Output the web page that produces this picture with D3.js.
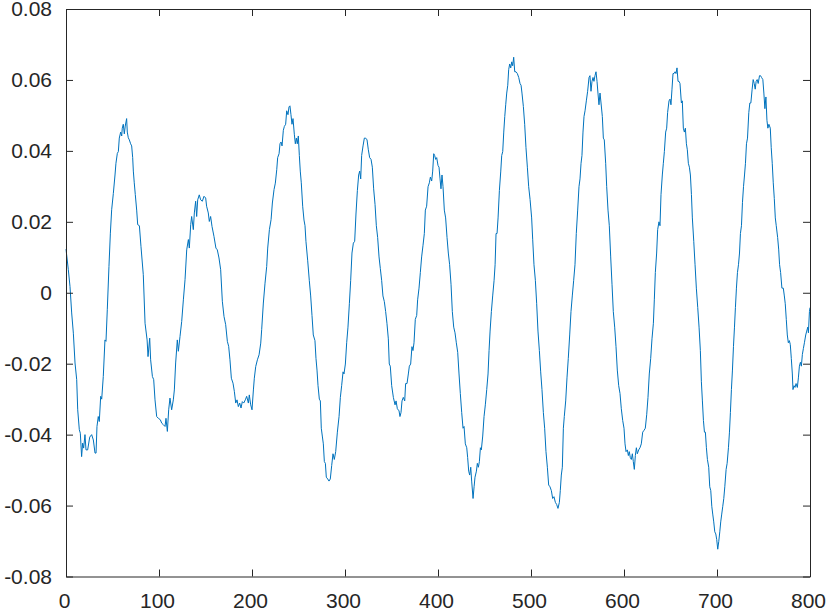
<!DOCTYPE html>
<html>
<head>
<meta charset="utf-8">
<script src="https://cdn.jsdelivr.net/npm/d3@7"></script>
<style>
  html, body { margin: 0; padding: 0; background: #fff; }
  svg { display: block; }
  .tick text { font-family: "Liberation Sans", Arial, Helvetica, sans-serif; font-size: 21px; fill: #262626; }
</style>
</head>
<body>
<script>
// sample index (x) and signal value (y)
const sampleX = [
  0, 2.5, 4.3, 6.1, 7.9, 9.7, 11.5, 12.6, 14.3, 15.4, 16.8, 17.9, 19.0, 20.4, 21.5, 23.3, 25.5, 27.6, 29.4, 31.2,
  32.3, 33.3, 34.7, 35.8, 37.3, 38.4, 40.1, 41.9, 43.0, 44.4, 46.2, 47.7, 49.1, 50.9, 52.7, 53.7, 55.2, 56.3, 57.3, 58.8,
  59.9, 60.5, 61.6, 62.7, 63.7, 65.2, 65.9, 67.0, 68.1, 69.5, 70.6, 71.7, 72.4, 73.4, 74.5, 76.0, 77.1, 78.9, 80.6, 83.1,
  85.0, 87.2, 88.2, 90.0, 91.0, 92.9, 94.3, 95.7, 97.5, 99.3, 101.4, 103.0, 104.7, 106.5, 107.5, 109.0, 110.4, 111.8, 113.6, 115.4,
  116.5, 117.9, 119.7, 120.8, 122.6, 124.4, 126.2, 128.0, 129.8, 131.6, 132.6, 134.1, 135.1, 136.9, 138.0, 139.4, 140.5, 141.6, 143.3, 144.8,
  146.6, 148.4, 150.2, 151.2, 153.0, 154.1, 155.5, 157.0, 159.1, 161.2, 162.7, 164.5, 166.3, 168.1, 169.9, 171.7, 173.5, 174.9, 176.3, 177.8,
  179.6, 181.0, 182.5, 183.9, 185.3, 186.8, 188.2, 189.6, 191.1, 192.8, 194.3, 196.1, 197.1, 198.6, 200.0, 201.5, 202.5, 204.0, 205.8, 207.6,
  209.4, 210.4, 212.2, 214.0, 215.8, 216.9, 218.7, 220.5, 221.9, 223.7, 225.1, 226.6, 227.6, 229.1, 230.1, 231.2, 232.3, 233.7, 234.8, 236.2,
  237.3, 238.7, 239.8, 240.8, 241.9, 243.0, 244.1, 245.5, 246.6, 247.7, 248.7, 249.8, 250.9, 251.9, 253.0, 254.5, 255.9, 257.0, 258.0, 259.9,
  261.6, 263.1, 264.5, 265.9, 267.7, 268.8, 269.9, 271.0, 272.4, 273.5, 274.5, 275.6, 276.7, 277.8, 278.9, 279.9, 281.4, 282.8, 284.2, 285.7,
  287.1, 288.5, 290.0, 291.8, 293.6, 295.0, 296.4, 297.9, 298.9, 300.4, 301.8, 303.2, 304.7, 306.1, 307.5, 309.0, 310.4, 311.8, 313.3, 314.7,
  315.8, 316.9, 317.9, 319.4, 320.8, 322.2, 323.7, 325.1, 326.5, 328.0, 329.4, 330.8, 332.3, 333.7, 335.1, 336.6, 338.0, 339.4, 340.8, 342.3,
  343.7, 345.1, 346.6, 347.6, 348.7, 350.2, 352.0, 353.8, 354.9, 356.3, 358.1, 359.1, 360.2, 361.3, 362.7, 364.2, 365.2, 366.7, 368.1, 369.2,
  370.6, 372.0, 373.1, 374.2, 375.6, 377.1, 378.1, 379.6, 381.0, 382.4, 383.9, 385.3, 386.4, 387.8, 389.3, 390.7, 391.8, 393.2, 394.3, 395.4,
  396.4, 397.5, 398.6, 400.0, 401.1, 402.2, 403.2, 404.3, 405.4, 406.8, 408.2, 409.7, 411.1, 412.5, 414.0, 415.4, 416.9, 418.3, 419.7, 421.2,
  422.6, 424.0, 425.5, 426.9, 428.0, 429.4, 430.9, 431.9, 433.0, 434.1, 435.2, 436.2, 437.7, 438.8, 439.8, 441.3, 442.3, 443.4, 444.5, 445.6,
  446.6, 448.1, 449.5, 450.9, 452.4, 453.8, 454.9, 456.0, 457.4, 458.8, 460.3, 461.4, 462.4, 463.5, 464.6, 466.0, 467.5, 468.5, 469.6, 470.7,
  471.8, 472.8, 473.9, 475.0, 476.0, 477.1, 478.2, 479.3, 480.3, 481.4, 482.5, 483.9, 485.3, 486.8, 488.2, 489.3, 490.3, 491.8, 493.2, 494.6,
  496.1, 497.5, 499.0, 500.7, 501.8, 503.2, 504.7, 506.1, 507.5, 509.0, 510.4, 511.8, 513.3, 514.7, 516.1, 517.6, 519.0, 520.4, 521.9, 523.3,
  524.7, 526.2, 527.6, 529.0, 530.5, 531.5, 532.6, 533.7, 534.8, 535.8, 537.3, 538.7, 540.1, 541.6, 543.0, 544.4, 545.9, 547.3, 548.7, 550.2,
  551.6, 552.7, 553.8, 554.8, 555.9, 557.0, 558.1, 559.5, 560.9, 562.4, 563.4, 564.5, 565.6, 566.7, 567.7, 568.8, 569.9, 571.0, 572.0, 573.1,
  574.2, 575.3, 576.7, 577.8, 578.8, 580.3, 581.4, 582.8, 584.2, 585.7, 587.1, 588.5, 590.0, 591.4, 592.8, 594.3, 595.7, 597.1, 598.6, 600.0,
  601.1, 602.2, 603.6, 604.7, 605.7, 606.8, 607.9, 609.0, 610.0, 611.1, 612.2, 613.3, 614.3, 615.8, 617.2, 618.6, 620.1, 621.5, 622.9, 624.4,
  625.8, 627.2, 628.7, 630.1, 631.6, 632.6, 633.7, 635.1, 636.2, 637.6, 638.7, 639.8, 641.2, 642.3, 643.4, 644.8, 645.9, 646.9, 648.4, 649.5,
  650.5, 651.6, 652.7, 653.8, 654.9, 655.9, 657.0, 658.1, 659.2, 660.2, 661.7, 662.7, 663.8, 664.9, 666.0, 667.1, 668.1, 669.2, 670.3, 671.4,
  672.5, 673.5, 675.0, 676.4, 677.8, 679.3, 680.7, 682.1, 683.2, 684.3, 685.4, 686.5, 687.5, 688.6, 689.7, 691.1, 692.2, 693.3, 694.4, 695.4,
  696.5, 697.6, 698.7, 699.7, 700.8, 701.9, 703.0, 704.0, 705.1, 706.2, 707.3, 708.4, 709.8, 710.9, 712.3, 713.4, 714.4, 715.5, 716.6, 717.7,
  718.8, 719.8, 720.9, 722.0, 723.1, 724.2, 725.2, 726.3, 727.4, 728.5, 729.6, 730.6, 731.7, 732.8, 734.2, 735.3, 736.4, 737.8, 738.9, 740.0,
  741.1, 742.1, 743.2, 744.3, 745.7, 746.8, 747.9, 749.3, 750.4, 751.5, 752.6, 753.7, 754.7, 755.8, 757.3, 758.3, 759.4, 760.5, 761.6, 762.7,
  763.7, 765.2, 766.3, 767.3, 768.4, 769.8, 771.3, 772.4, 773.4, 774.5, 775.6, 776.7, 777.8, 778.8, 779.9, 781.0, 781.7, 782.8, 783.9, 785.0,
  786.4, 787.5, 788.6, 789.7, 790.7, 791.8, 792.9, 794.0, 795.4, 796.5, 797.6, 798.3, 799.4, 800
];

const signal = [
  0.0123, 0.0065, 0.0018, -0.0057, -0.0114, -0.0198, -0.0245, -0.033, -0.0386, -0.0396, -0.0462, -0.0424, -0.0438, -0.040, -0.0443, -0.0443, -0.0407, -0.040, -0.0415, -0.0452,
  -0.0452, -0.0377, -0.0349, -0.0363, -0.0292, -0.030, -0.0236, -0.0133, -0.0137, -0.0048, 0.0074, 0.0168, 0.0234, 0.028, 0.0332, 0.0365, 0.0393, 0.0398, 0.0436, 0.0453,
  0.0442, 0.0464, 0.0475, 0.0448, 0.047, 0.0491, 0.0453, 0.0437, 0.0431, 0.042, 0.0414, 0.0381, 0.0343, 0.031, 0.0277, 0.0233, 0.0192, 0.0189, 0.0131, 0.0051,
  -0.0086, -0.0133, -0.018, -0.0128, -0.0189, -0.0236, -0.0245, -0.0302, -0.0349, -0.0354, -0.0358, -0.0368, -0.0372, -0.0377, -0.0354, -0.0391, -0.033, -0.0297, -0.033, -0.0302,
  -0.0274, -0.0198, -0.0133, -0.0165, -0.0123, -0.0081, -0.002, 0.0037, 0.0121, 0.015, 0.0126, 0.0192, 0.0215, 0.0178, 0.0225, 0.0258, 0.0215, 0.0262, 0.0276, 0.0262,
  0.0258, 0.0272, 0.0267, 0.0244, 0.0225, 0.0201, 0.0215, 0.0187, 0.0159, 0.0126, 0.0121, 0.0098, 0.0065, -0.0024, -0.0067, -0.009, -0.0137, -0.0151, -0.0189, -0.0241,
  -0.0255, -0.0278, -0.0311, -0.0302, -0.0321, -0.0311, -0.0325, -0.0307, -0.0311, -0.0302, -0.0292, -0.0311, -0.0288, -0.0316, -0.033, -0.0274, -0.0241, -0.0208, -0.0189, -0.0175,
  -0.0142, -0.0104, -0.0029, 0.0027, 0.0074, 0.0126, 0.0178, 0.0206, 0.0253, 0.0291, 0.0309, 0.0347, 0.0381, 0.0392, 0.042, 0.0425, 0.0414, 0.0458, 0.0469, 0.0475,
  0.0513, 0.0502, 0.0524, 0.0527, 0.0502, 0.0475, 0.0491, 0.0447, 0.042, 0.0436, 0.042, 0.0442, 0.0387, 0.0343, 0.031, 0.0244, 0.0205, 0.0189, 0.0145, 0.009,
  0.0035, -0.0009, -0.0064, -0.0119, -0.0135, -0.0185, -0.0218, -0.0262, -0.03, -0.0305, -0.0382, -0.0404, -0.0426, -0.0476, -0.0481, -0.052, -0.0525, -0.0531, -0.0525, -0.0487,
  -0.0454, -0.047, -0.0448, -0.0393, -0.0349, -0.0295, -0.0262, -0.0223, -0.0229, -0.0201, -0.0141, -0.0097, -0.0031, 0.0035, 0.0112, 0.014, 0.0145, 0.0222, 0.0288, 0.0332,
  0.0343, 0.0321, 0.0387, 0.0414, 0.0436, 0.0436, 0.0431, 0.0403, 0.0381, 0.0376, 0.0354, 0.0293, 0.0249, 0.0189, 0.0156, 0.0101, 0.0068, 0.0035, -0.0009, -0.0025,
  -0.0053, -0.0086, -0.013, -0.0201, -0.0207, -0.0262, -0.0295, -0.0316, -0.0305, -0.0327, -0.0333, -0.0349, -0.0338, -0.0305, -0.0295, -0.0305, -0.0256, -0.0256, -0.0229, -0.0207,
  -0.0201, -0.0152, -0.0163, -0.0141, -0.0075, -0.0064, -0.002, 0.0013, 0.0057, 0.0101, 0.0134, 0.0167, 0.0233, 0.0244, 0.0299, 0.031, 0.0326, 0.0315, 0.0343, 0.0392,
  0.0387, 0.0376, 0.0381, 0.0359, 0.0354, 0.0321, 0.0293, 0.0332, 0.0299, 0.0233, 0.0211, 0.0156, 0.0112, 0.0079, 0.0024, -0.0053, -0.0097, -0.0113, -0.0141, -0.0168,
  -0.0229, -0.0284, -0.0338, -0.0382, -0.0377, -0.0426, -0.0437, -0.0465, -0.0503, -0.0514, -0.0492, -0.0531, -0.058, -0.0547, -0.052, -0.0503, -0.0481, -0.0492, -0.0476, -0.0437,
  -0.0443, -0.0404, -0.0349, -0.0316, -0.0273, -0.0229, -0.0163, -0.0108, -0.0053, -0.0009, 0.0035, 0.0079, 0.0167, 0.0167, 0.0211, 0.0288, 0.0343, 0.0387, 0.0398, 0.0453,
  0.0497, 0.053, 0.0563, 0.0585, 0.0629, 0.0645, 0.0634, 0.0651, 0.064, 0.0664, 0.0623, 0.0623, 0.0618, 0.0607, 0.059, 0.0585, 0.0563, 0.0525, 0.0475, 0.0409,
  0.0354, 0.0299, 0.0263, 0.0211, 0.0151, 0.0079, 0.0035, -0.0031, -0.0108, -0.0163, -0.0223, -0.0273, -0.0338, -0.0382, -0.0448, -0.0492, -0.0542, -0.0547, -0.0558, -0.058,
  -0.0575, -0.0591, -0.0597, -0.0608, -0.0591, -0.0558, -0.0514, -0.0492, -0.0382, -0.0349, -0.0305, -0.024, -0.0185, -0.0119, -0.0053, -0.0009, 0.0035, 0.0079, 0.0167, 0.0233,
  0.0299, 0.0321, 0.0365, 0.0387, 0.0453, 0.0497, 0.0513, 0.0541, 0.0568, 0.0607, 0.0612, 0.0568, 0.0596, 0.0607, 0.0596, 0.0612, 0.0623, 0.0596, 0.0563, 0.053,
  0.0563, 0.0535, 0.0497, 0.0436, 0.0431, 0.0365, 0.0299, 0.0233, 0.0189, 0.0101, 0.0024, -0.0053, -0.0097, -0.0152, -0.0218, -0.0262, -0.0284, -0.0327, -0.036, -0.0382,
  -0.0426, -0.0448, -0.0443, -0.0459, -0.0448, -0.0465, -0.047, -0.0454, -0.0476, -0.0498, -0.0459, -0.0437, -0.0454, -0.0443, -0.0437, -0.0426, -0.0393, -0.0388, -0.0382, -0.0344,
  -0.0295, -0.0229, -0.0185, -0.013, -0.0086, -0.002, 0.0057, 0.0112, 0.0178, 0.02, 0.0189, 0.0277, 0.0332, 0.0365, 0.0398, 0.0453, 0.0464, 0.0508, 0.0541, 0.0546,
  0.053, 0.0574, 0.0618, 0.0618, 0.0623, 0.0618, 0.0634, 0.0596, 0.0596, 0.059, 0.0535, 0.0541, 0.0464, 0.0453, 0.0464, 0.042, 0.0403, 0.0365, 0.0354, 0.0332,
  0.0277, 0.0211, 0.0145, 0.0079, 0.0013, -0.0042, -0.0097, -0.0163, -0.0251, -0.0305, -0.036, -0.0393, -0.0393, -0.0437, -0.047, -0.0492, -0.0547, -0.0558, -0.0602, -0.0624,
  -0.0646, -0.0674, -0.068, -0.0696, -0.0723, -0.0701, -0.0674, -0.0646, -0.0624, -0.0602, -0.058, -0.0547, -0.0498, -0.0481, -0.0437, -0.0393, -0.0338, -0.0273, -0.0218, -0.0152,
  -0.0097, -0.0042, 0.0013, 0.0057, 0.0079, 0.0112, 0.0167, 0.0189, 0.0255, 0.0299, 0.0332, 0.0365, 0.042, 0.0436, 0.0508, 0.0535, 0.0535, 0.0574, 0.0601, 0.059,
  0.0574, 0.0596, 0.0601, 0.059, 0.0612, 0.0612, 0.0607, 0.0601, 0.0563, 0.0519, 0.0552, 0.0486, 0.0464, 0.0475, 0.0464, 0.0409, 0.0365, 0.031, 0.0266, 0.0211,
  0.0189, 0.0156, 0.0123, 0.0079, 0.0057, 0.0013, 0.0013, -0.0009, -0.0031, -0.0075, -0.0119, -0.0141, -0.0135, -0.0146, -0.0185, -0.0229, -0.0273, -0.0262, -0.0267, -0.0256,
  -0.0267, -0.024, -0.0207, -0.0196, -0.0207, -0.0174, -0.0157, -0.0141, -0.0119, -0.0108, -0.0097, -0.0113, -0.0053, -0.0042
];

const xTicks = [0, 100, 200, 300, 400, 500, 600, 700, 800];
const yTicks = [-0.08, -0.06, -0.04, -0.02, 0, 0.02, 0.04, 0.06, 0.08];

const width = 830, height = 611;
const margin = { top: 9, right: 20, bottom: 34.5, left: 66 };
const innerW = width - margin.left - margin.right;
const innerH = height - margin.top - margin.bottom;
const axisColor = '#262626';
const tickLen = 7;

const svg = d3.select('body')
  .append('svg')
  .attr('width', width)
  .attr('height', height);

const g = svg.append('g')
  .attr('transform', `translate(${margin.left}, ${margin.top})`);

const xScale = d3.scaleLinear().domain([0, 800]).range([0, innerW]);
const yScale = d3.scaleLinear().domain([-0.08, 0.08]).range([innerH, 0]);

const yFormat = d => d === 0 ? '0' : d.toFixed(2);

// the curve
const line = d3.line()
  .x((d, i) => xScale(sampleX[i]))
  .y(d => yScale(d));

g.append('path')
  .datum(signal)
  .attr('fill', 'none')
  .attr('stroke', '#0072BD')
  .attr('stroke-width', 1)
  .attr('stroke-linejoin', 'round')
  .attr('d', line);

// axes, ticks pointing inwards on all four sides
const bottom = g.append('g')
  .attr('transform', `translate(0, ${innerH})`)
  .call(d3.axisBottom(xScale).tickValues(xTicks).tickSizeInner(-tickLen).tickSizeOuter(0).tickPadding(17));
bottom.selectAll('.tick text').attr('dx', '-2px');

g.append('g')
  .call(d3.axisLeft(yScale).tickValues(yTicks).tickFormat(yFormat).tickSizeInner(-tickLen).tickSizeOuter(0).tickPadding(14));

g.append('g')
  .call(d3.axisTop(xScale).tickValues(xTicks).tickFormat('').tickSizeInner(-tickLen).tickSizeOuter(0));

g.append('g')
  .attr('transform', `translate(${innerW}, 0)`)
  .call(d3.axisRight(yScale).tickValues(yTicks).tickFormat('').tickSizeInner(-tickLen).tickSizeOuter(0));

g.selectAll('.domain, .tick line')
  .attr('stroke', axisColor)
  .attr('stroke-width', 1);
</script>
</body>
</html>
